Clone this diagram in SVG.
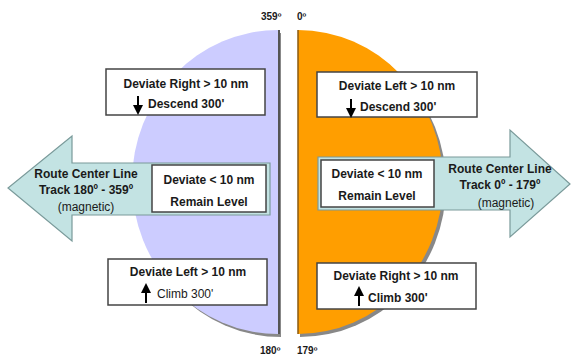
<svg xmlns="http://www.w3.org/2000/svg" width="571" height="356" viewBox="0 0 571 356">
<defs>
<style>
.t{font-family:"Liberation Sans",Arial,sans-serif;font-weight:bold;font-size:12px;fill:#1a1a1a}
.n{font-family:"Liberation Sans",Arial,sans-serif;font-size:12px;fill:#1a1a1a}
.d{font-family:"Liberation Sans",Arial,sans-serif;font-weight:bold;font-size:10px;fill:#1a1a1a}
.box{fill:#fff;stroke:#444;stroke-width:1.5}
.arr{fill:#c3e3e3;stroke:#7a9a9a;stroke-width:1.2}
.sh{fill:#888}
</style>
<marker id="ah" viewBox="0 0 10 10" refX="5" refY="5" markerWidth="5" markerHeight="5" orient="auto-start-reverse"><path d="M0 0 L10 5 L0 10 Z" fill="#000"/></marker>
</defs>
<rect width="571" height="356" fill="#fff"/>
<g id="left-half">
<path class="sh" d="M281 33 A146 152 0 0 0 281 337 Z"/>
<path d="M278 30 A146 152 0 0 0 278 334 Z" fill="#ccccff"/>
<line x1="279" y1="30" x2="279" y2="334" stroke="#555" stroke-width="2"/>
</g>
<g id="right-half">
<path class="sh" d="M300 33 A146 152 0 0 1 300 337 Z"/>
<path d="M298 30 A145 152 0 0 1 298 334 Z" fill="#ff9e00"/>
<line x1="298" y1="30" x2="298" y2="334" stroke="#8a5a10" stroke-width="1.5"/>
</g>
<g id="deg-labels">
<text class="d" x="261" y="20">359º</text>
<text class="d" x="297" y="20">0º</text>
<text class="d" x="260" y="354">180º</text>
<text class="d" x="297" y="354">179º</text>
</g>
<g id="arrow-left">
<path class="arr" d="M270 163 L72 163 L72 136 L8 188 L72 241 L72 215 L270 215 Z"/>
<text class="t" x="86" y="178" text-anchor="middle">Route Center Line</text>
<text class="t" x="86" y="194" text-anchor="middle">Track 180º - 359º</text>
<text class="n" x="86" y="211" text-anchor="middle">(magnetic)</text>
</g>
<g id="arrow-right">
<path class="arr" d="M318 157 L510 157 L510 130 L570 184 L510 237 L510 210 L318 210 Z"/>
<text class="t" x="500" y="173" text-anchor="middle">Route Center Line</text>
<text class="t" x="500" y="189" text-anchor="middle">Track 0º - 179º</text>
<text class="n" x="506" y="207" text-anchor="middle">(magnetic)</text>
</g>
<g id="box-left-mid">
<rect class="box" x="152" y="165" width="114" height="47"/>
<text class="t" x="209" y="184" text-anchor="middle">Deviate &lt; 10 nm</text>
<text class="t" x="209" y="206" text-anchor="middle">Remain Level</text>
</g>
<g id="box-right-mid">
<rect class="box" x="321" y="160" width="113" height="47"/>
<text class="t" x="377" y="178" text-anchor="middle">Deviate &lt; 10 nm</text>
<text class="t" x="377" y="200" text-anchor="middle">Remain Level</text>
</g>
<g id="box-left-top">
<rect class="box" x="106" y="69" width="159" height="46"/>
<text class="t" x="186" y="88" text-anchor="middle">Deviate Right &gt; 10 nm</text>
<line x1="138" y1="96" x2="138" y2="110" stroke="#000" stroke-width="2" marker-end="url(#ah)"/>
<text class="t" x="148" y="108">Descend 300'</text>
</g>
<g id="box-right-top">
<rect class="box" x="317" y="72" width="160" height="45"/>
<text class="t" x="397" y="90" text-anchor="middle">Deviate Left &gt; 10 nm</text>
<line x1="351" y1="99" x2="351" y2="113" stroke="#000" stroke-width="2" marker-end="url(#ah)"/>
<text class="t" x="360" y="111">Descend 300'</text>
</g>
<g id="box-left-bottom">
<rect class="box" x="108" y="259" width="159" height="46"/>
<text class="t" x="188" y="276" text-anchor="middle">Deviate Left &gt; 10 nm</text>
<line x1="146" y1="303" x2="146" y2="288" stroke="#000" stroke-width="2" marker-end="url(#ah)"/>
<text class="n" x="157" y="298">Climb 300'</text>
</g>
<g id="box-right-bottom">
<rect class="box" x="317" y="263" width="159" height="46"/>
<text class="t" x="396" y="280" text-anchor="middle">Deviate Right &gt; 10 nm</text>
<line x1="359" y1="306" x2="359" y2="291" stroke="#000" stroke-width="2" marker-end="url(#ah)"/>
<text class="t" x="368" y="302">Climb 300'</text>
</g>
</svg>
